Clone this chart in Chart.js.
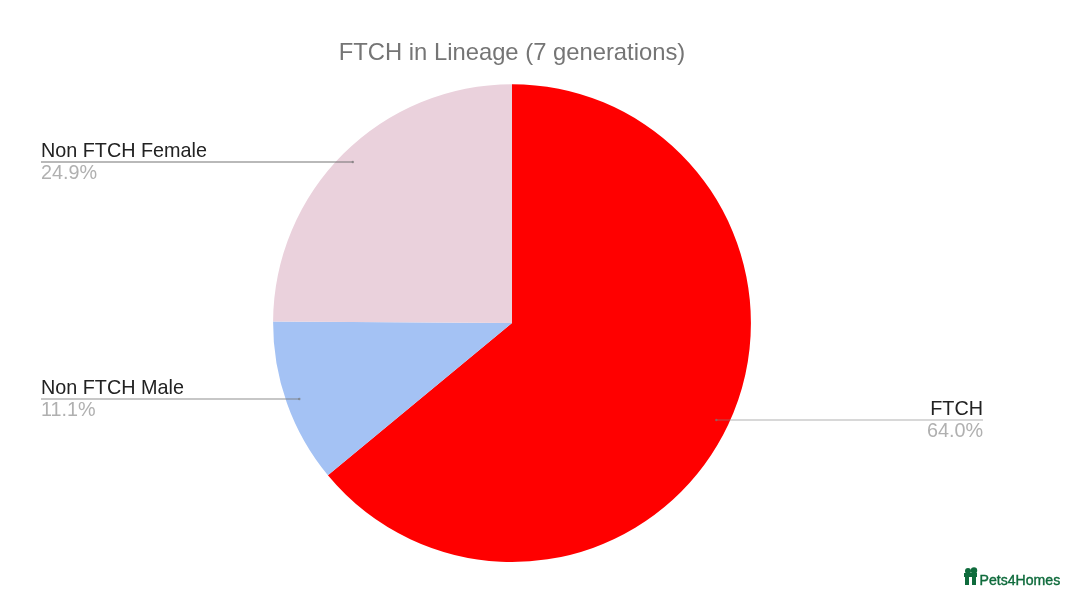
<!DOCTYPE html>
<html><head><meta charset="utf-8">
<style>html,body{margin:0;padding:0;background:#fff}#w{width:1080px;height:596px;position:relative}</style>
<script src="https://cdn.jsdelivr.net/npm/chart.js@4/dist/chart.umd.min.js"></script>
</head><body><div id="w"><canvas id="c" width="1080" height="596"></canvas></div>
<script>
const categories = ["FTCH", "Non FTCH Male", "Non FTCH Female"];
const values = [64.0, 11.1, 24.9];
const colors = ["#ff0000", "#a4c2f4", "#ead1dc"];
const titleText = "FTCH in Lineage (7 generations)";
const brandText = "Pets4Homes";
const FONT = '"Liberation Sans", Arial, sans-serif';
// x = far end of the leader line; align = text alignment; dy = small line nudge; line = leader colour
const labelLayout = [
  {x: 983, align: "right", dy: 0.5, line: "rgba(130,130,130,0.42)"},
  {x: 41, align: "left", dy: 0, line: "rgba(120,120,120,0.55)"},
  {x: 41, align: "left", dy: -1, line: "rgba(110,110,110,0.65)"}
];
const leaderPlugin = {
  id: "leaders",
  afterDraw(chart) {
    const ctx = chart.ctx;
    const arcs = chart.getDatasetMeta(0).data;
    ctx.save();
    arcs.forEach((arc, i) => {
      const L = labelLayout[i];
      const mid = (arc.startAngle + arc.endAngle) / 2;
      const r = arc.outerRadius * 0.945;
      const px = arc.x + Math.cos(mid) * r;
      const py = Math.round(arc.y + Math.sin(mid) * r + L.dy);
      ctx.strokeStyle = L.line;
      ctx.lineWidth = 1.5;
      ctx.beginPath(); ctx.moveTo(L.x, py); ctx.lineTo(px, py); ctx.stroke();
      ctx.fillStyle = "rgba(120,120,120,0.7)";
      ctx.beginPath(); ctx.arc(px, py, 1.2, 0, Math.PI * 2); ctx.fill();
      ctx.textAlign = L.align;
      ctx.textBaseline = "alphabetic";
      ctx.font = "19.8px " + FONT;
      ctx.fillStyle = "#222222";
      ctx.fillText(categories[i], L.x, py - 5);
      ctx.fillStyle = "#b0b0b0";
      ctx.fillText(values[i].toFixed(1) + "%", L.x, py + 17);
    });
    // brand mark
    const g = "#0f6b3c";
    ctx.fillStyle = g;
    ctx.fillRect(965, 574, 4, 11);
    ctx.fillRect(972, 574, 4, 11);
    ctx.fillRect(964, 573, 13, 4);
    ctx.beginPath(); ctx.arc(968, 571, 3, 0, Math.PI * 2); ctx.fill();
    ctx.beginPath(); ctx.arc(974, 570.5, 3.2, 0, Math.PI * 2); ctx.fill();
    ctx.font = "14.1px " + FONT;
    ctx.textAlign = "left";
    ctx.lineWidth = 0.4;
    ctx.strokeStyle = g;
    ctx.fillText(brandText, 979.5, 585);
    ctx.strokeText(brandText, 979.5, 585);
    ctx.restore();
  }
};
new Chart(document.getElementById("c"), {
  type: "pie",
  data: { labels: categories, datasets: [{ data: values, backgroundColor: colors, borderWidth: 0 }] },
  options: {
    responsive: false,
    animation: false,
    layout: { padding: { top: 39, bottom: 34, left: 0, right: 56 } },
    plugins: {
      legend: { display: false },
      tooltip: { enabled: false },
      title: { display: true, text: titleText, color: "#757575",
        font: { family: FONT, size: 23.8, weight: "normal" }, padding: { top: 0, bottom: 16.6 } }
    }
  },
  plugins: [leaderPlugin]
});
</script></body></html>
